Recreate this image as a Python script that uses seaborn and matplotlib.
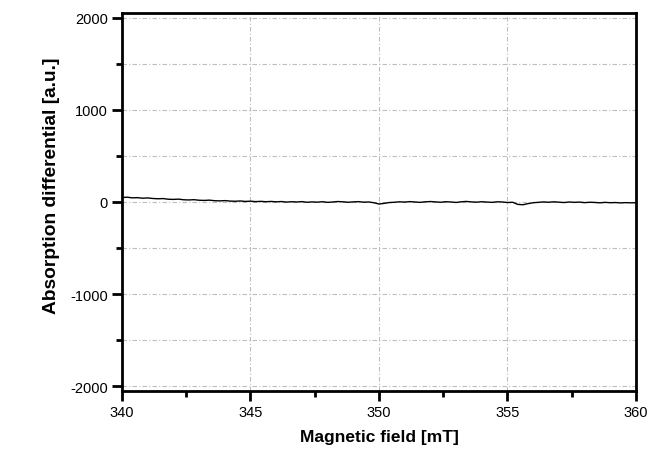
import matplotlib
matplotlib.use("Agg")
import matplotlib.pyplot as plt
import seaborn as sns
import numpy as np
import pandas as pd
from matplotlib.ticker import MultipleLocator

# Data (field in mT, signal in a.u.)
field = [340.0 + 0.2 * i for i in range(101)]
signal = [
    48, 52, 45, 47, 41, 44, 38, 35, 37, 30,
    28, 31, 24, 22, 25, 19, 17, 20, 14, 12,
    15, 10, 8, 11, 6, 9, 4, 7, 3, 6,
    2, 5, -1, 3, 0, 4, -3, 1, -2, 3,
    -4, 0, 5, 2, -3, 1, 4, -2, 0, -8,
    -22, -15, -6, -3, 2, -1, 4, 0, -4, 2,
    5, 1, -3, 3, 0, -5, 2, 6, 1, -2,
    3, -1, -4, 2, 0, -6, -3, -26, -30, -18,
    -8, -4, 1, -3, 2, -2, -6, 0, -4, -1,
    -7, -3, -5, -9, -4, -8, -6, -10, -7, -9, -8,
]

df = pd.DataFrame({"field": field, "signal": signal})

sns.set_theme(style="white")
plt.rcParams['font.family'] = ['Liberation Sans', 'DejaVu Sans']
plt.rcParams['axes.unicode_minus'] = False
plt.rcParams['text.color'] = 'black'
plt.rcParams['axes.labelcolor'] = 'black'

fig = plt.figure(figsize=(6.71, 4.56), dpi=100)
ax = fig.add_axes([0.1818, 0.1404, 0.7660, 0.8289])

sns.lineplot(data=df, x="field", y="signal", ax=ax, color="black", linewidth=1.0)

ax.set_xlim(340, 360)
ax.set_ylim(-2050, 2050)
ax.xaxis.set_major_locator(MultipleLocator(5))
ax.xaxis.set_minor_locator(MultipleLocator(2.5))
ax.yaxis.set_major_locator(MultipleLocator(1000))
ax.yaxis.set_minor_locator(MultipleLocator(500))

gridkw = dict(color="#bdbdbd", linewidth=0.8, linestyle=(0, (4, 2, 1, 2)))
ax.grid(True, which="major", axis="both", **gridkw)
ax.grid(True, which="minor", axis="y", **gridkw)
ax.set_axisbelow(True)

for s in ax.spines.values():
    s.set_visible(True)
    s.set_color("black")
    s.set_linewidth(2.0)

ax.tick_params(axis="both", which="major", direction="out", length=7, width=2,
               color="black", labelsize=10.5, labelcolor="black", pad=3,
               left=True, bottom=True)
ax.tick_params(axis="both", which="minor", direction="out", length=4, width=2,
               color="black", left=True, bottom=True)

ax.set_xlabel("Magnetic field [mT]", fontsize=12.5, fontweight="bold", labelpad=7)
ax.set_ylabel("Absorption differential [a.u.]", fontsize=13.8, fontweight="bold")
ax.yaxis.set_label_coords(-0.12, 0.545)

fig.savefig("out.png", dpi=100)
